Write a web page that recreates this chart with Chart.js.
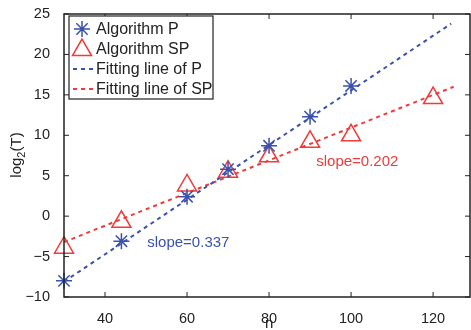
<!DOCTYPE html>
<html>
<head>
<meta charset="utf-8">
<script src="https://cdn.jsdelivr.net/npm/chart.js@4"></script>
<style>
  html, body { margin: 0; padding: 0; background: #fff; }
  #wrap { width: 471px; height: 330px; }
</style>
</head>
<body>
<div id="wrap"><canvas id="myChart" width="471" height="330"></canvas></div>
<script>
// values
const nP = [30, 44, 60, 70, 80, 90, 100];
const logP = [-8, -3.1, 2.4, 5.8, 8.7, 12.3, 16.1];
const nSP = [30, 44, 60, 70, 80, 90, 100, 120];
const logSP = [-3.9, -0.7, 3.8, 5.5, 7.4, 9.2, 10, 14.6];
const fitPX = [30, 124.4];
const fitPY = [-8.1, 23.8];
const fitSPX = [30, 125];
const fitSPY = [-3.2, 16.0];
const xTicks = [40, 60, 80, 100, 120];
const yTicks = [-10, -5, 0, 5, 10, 15, 20, 25];

const BLUE = '#3a52ad';
const RED = '#ef3b3b';
const INK = '#222';
const FONT = '"Liberation Sans", Arial, sans-serif';

const pts = (xs, ys) => xs.map((x, i) => ({ x, y: ys[i] }));

// inward ticks on all four sides + box, like MATLAB
const boxTicks = {
  id: 'boxTicks',
  afterDraw(chart) {
    const { ctx, chartArea: a, scales } = chart;
    ctx.save();
    ctx.strokeStyle = INK;
    ctx.lineWidth = 1.5;
    ctx.strokeRect(a.left, a.top, a.right - a.left, a.bottom - a.top);
    ctx.lineWidth = 1;
    ctx.beginPath();
    xTicks.forEach(v => {
      const px = scales.x.getPixelForValue(v);
      ctx.moveTo(px, a.bottom); ctx.lineTo(px, a.bottom - 5);
      ctx.moveTo(px, a.top); ctx.lineTo(px, a.top + 5);
    });
    yTicks.forEach(v => {
      const py = scales.y.getPixelForValue(v);
      ctx.moveTo(a.left, py); ctx.lineTo(a.left + 5, py);
      ctx.moveTo(a.right, py); ctx.lineTo(a.right - 5, py);
    });
    ctx.stroke();

    // axis titles
    ctx.fillStyle = INK;
    ctx.font = '15px ' + FONT;
    ctx.textAlign = 'center';
    ctx.textBaseline = 'alphabetic';
    ctx.fillText('n', scales.x.getPixelForValue(80), 328);

    ctx.save();
    ctx.translate(21, 155);
    ctx.rotate(-Math.PI / 2);
    ctx.textAlign = 'left';
    const w1 = ctx.measureText('log').width;
    ctx.font = '11px ' + FONT;
    const w2 = ctx.measureText('2').width;
    ctx.font = '15px ' + FONT;
    const w3 = ctx.measureText('(T)').width;
    let x0 = -(w1 + w2 + w3) / 2;
    ctx.fillText('log', x0, 0);
    ctx.font = '11px ' + FONT;
    ctx.fillText('2', x0 + w1, 4);
    ctx.font = '15px ' + FONT;
    ctx.fillText('(T)', x0 + w1 + w2, 0);
    ctx.restore();

    // slope notes
    ctx.font = '15px ' + FONT;
    ctx.textAlign = 'left';
    ctx.textBaseline = 'middle';
    ctx.fillStyle = BLUE;
    ctx.fillText('slope=0.337', scales.x.getPixelForValue(50.3), scales.y.getPixelForValue(-3.35));
    ctx.fillStyle = RED;
    ctx.fillText('slope=0.202', scales.x.getPixelForValue(91.5), scales.y.getPixelForValue(6.7));
    ctx.restore();
  }
};

// legend box in the top-left corner
const boxLegend = {
  id: 'boxLegend',
  afterDraw(chart) {
    const { ctx } = chart;
    const left = 69, top = 16, w = 144, h = 83;
    ctx.save();
    ctx.fillStyle = '#fff';
    ctx.fillRect(left, top, w, h);
    ctx.strokeStyle = INK;
    ctx.lineWidth = 1.2;
    ctx.strokeRect(left, top, w, h);
    ctx.font = '16px ' + FONT;
    ctx.textBaseline = 'middle';
    ctx.textAlign = 'left';
    const rows = [29, 49, 69, 89];
    chart.data.datasets.forEach((ds, i) => {
      const y = rows[i];
      const mx = 82;
      ctx.strokeStyle = ds.borderColor;
      if (ds.showLine) {
        ctx.lineWidth = 2;
        ctx.setLineDash(ds.borderDash);
        ctx.beginPath();
        ctx.moveTo(73, y); ctx.lineTo(95, y);
        ctx.stroke();
        ctx.setLineDash([]);
      } else {
        ctx.fillStyle = 'rgba(0,0,0,0)';
        ctx.lineWidth = ds.pointBorderWidth;
        Chart.helpers.drawPoint(ctx, {
          pointStyle: ds.pointStyle,
          radius: ds.pointRadius,
          borderWidth: ds.pointBorderWidth,
          rotation: 0
        }, mx, y + (ds.pointStyle === 'triangle' ? 1 : 0));
      }
      ctx.fillStyle = INK;
      ctx.fillText(ds.label, 96, y + 1);
    });
    ctx.restore();
  }
};

const ctx = document.getElementById('myChart').getContext('2d');
new Chart(ctx, {
  type: 'scatter',
  data: {
    datasets: [
      { label: 'Algorithm P', data: pts(nP, logP), pointStyle: 'star', pointRadius: 8, clip: false,
        pointBorderWidth: 1.5, borderColor: BLUE, backgroundColor: 'transparent', showLine: false, order: 1 },
      { label: 'Algorithm SP', data: pts(nSP, logSP), pointStyle: 'triangle', pointRadius: 11, clip: false,
        pointBorderWidth: 1.5, borderColor: RED, backgroundColor: 'transparent', showLine: false, order: 2 },
      { label: 'Fitting line of P', data: pts(fitPX, fitPY), showLine: true, pointRadius: 0,
        borderColor: BLUE, borderWidth: 2, borderDash: [4, 4], order: 3 },
      { label: 'Fitting line of SP', data: pts(fitSPX, fitSPY), showLine: true, pointRadius: 0,
        borderColor: RED, borderWidth: 2, borderDash: [4, 4], order: 4 }
    ]
  },
  options: {
    responsive: false,
    animation: false,
    layout: { autoPadding: false, padding: { left: 0, right: 1, top: 14, bottom: 0 } },
    plugins: { legend: { display: false }, tooltip: { enabled: false } },
    scales: {
      x: {
        type: 'linear', min: 30, max: 129,
        afterBuildTicks: s => { s.ticks = xTicks.map(v => ({ value: v })); },
        afterFit: s => { s.height = 33; s.paddingLeft = 0; s.paddingRight = 0; },
        grid: { display: false },
        border: { display: false },
        ticks: { color: INK, font: { family: FONT, size: 14.5 }, padding: 5, maxRotation: 0 }
      },
      y: {
        type: 'linear', min: -10, max: 25,
        afterBuildTicks: s => { s.ticks = yTicks.map(v => ({ value: v })); },
        afterFit: s => { s.width = 64; s.paddingTop = 0; s.paddingBottom = 0; },
        grid: { display: false },
        border: { display: false },
        ticks: { color: INK, font: { family: FONT, size: 14.5 }, padding: 6,
          callback: v => (v < 0 ? '\u2212' + Math.abs(v) : String(v)) }
      }
    }
  },
  plugins: [boxTicks, boxLegend]
});
</script>
</body>
</html>
